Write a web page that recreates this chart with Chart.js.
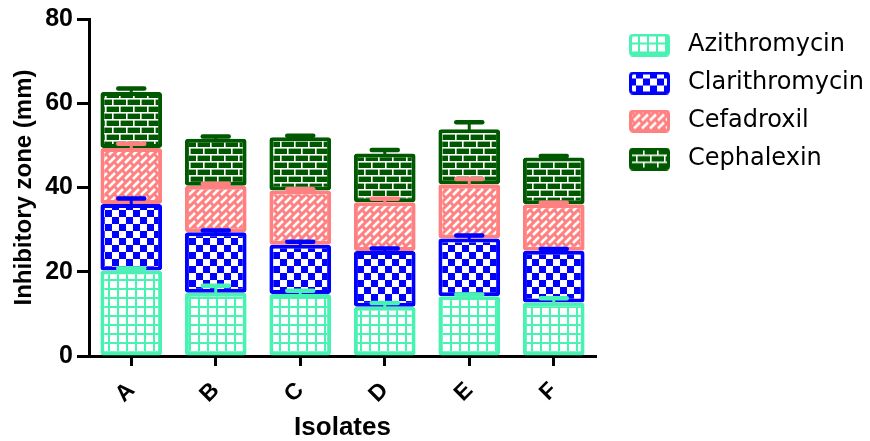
<!DOCTYPE html>
<html><head><meta charset="utf-8">
<script src="https://cdn.jsdelivr.net/npm/chart.js@4.4.1/dist/chart.umd.min.js"></script>
<style>html,body{margin:0;padding:0;background:#fff}</style>
</head><body>
<canvas id="c" width="870" height="441" style="display:block;width:870px;height:441px"></canvas>
<script>
// ---- data ----
const categories = ['A', 'B', 'C', 'D', 'E', 'F'];
const seriesNames = ['Azithromycin', 'Clarithromycin', 'Cefadroxil', 'Cephalexin'];
const azithromycin   = [20.3, 15.0, 14.7, 11.7, 14.2, 12.7];
const clarithromycin = [15.8, 14.4, 11.7, 13.2, 13.7, 12.3];
const cefadroxil     = [13.3, 11.0, 12.9, 11.6, 12.9, 11.0];
const cephalexin     = [13.3, 11.2, 12.6, 11.6, 13.0, 11.1];
const azithromycinErr   = [0.5, 1.7, 0.8, 0.9, 0.4, 1.0];
const clarithromycinErr = [1.3, 0.4, 0.7, 0.6, 0.7, 0.4];
const cefadroxilErr     = [1.0, 0.5, 0.3, 0.8, 1.2, 0.4];
const cephalexinErr     = [0.8, 0.5, 0.4, 0.8, 1.7, 0.4];
const yTicks = [0, 20, 40, 60, 80];

// ---- styles ----
const colors = ['#48F2B2', '#0000FF', '#FF8080', '#005800'];
const boldFam = "'Liberation Sans', Arial, sans-serif";
const narrowFam = "'Liberation Sans Narrow', 'Liberation Sans', Arial, sans-serif";

function tile(w, h, draw) {
  const c = document.createElement('canvas'); c.width = w; c.height = h;
  draw(c.getContext('2d'), w, h); return c;
}
const tiles = [
  tile(9, 9, (g, w, h) => { g.fillStyle = '#fff'; g.fillRect(0,0,w,h); g.fillStyle = colors[0];
    g.fillRect(0,0,2,h); g.fillRect(0,0,w,2); }),
  tile(14, 14, (g, w, h) => { g.fillStyle = colors[1]; g.fillRect(0,0,w,h); g.fillStyle = '#fff';
    g.fillRect(0,0,7,7); g.fillRect(7,7,7,7); }),
  tile(16, 16, (g, w, h) => { g.fillStyle = colors[2]; g.fillRect(0,0,w,h); g.strokeStyle = '#fff';
    g.lineWidth = 2.6; g.lineCap = 'butt';
    for (let k = -2; k <= 6; k++) { const v = 8 * k;
      for (let m = -2; m <= 4; m++) { const u0 = 16 * m + ((k % 2 + 2) % 2 ? 8 : 0);
        const u1 = u0 - 6, u2 = u0 + 6;
        g.beginPath(); g.moveTo((v + u1) / 2, (v - u1) / 2); g.lineTo((v + u2) / 2, (v - u2) / 2); g.stroke(); } } }),
  tile(14, 14, (g, w, h) => { g.fillStyle = colors[3]; g.fillRect(0,0,w,h); g.fillStyle = '#fff';
    g.fillRect(0,0,w,1.6); g.fillRect(0,7,w,1.6); g.fillRect(0,0,1.6,7); g.fillRect(7,7,1.6,7); })
];
const mainCtx = document.getElementById('c').getContext('2d');
const patterns = tiles.map(t => mainCtx.createPattern(t, 'repeat'));

function rr(g, x, y, w, h, r) {
  g.beginPath(); g.moveTo(x + r, y); g.lineTo(x + w - r, y); g.quadraticCurveTo(x + w, y, x + w, y + r);
  g.lineTo(x + w, y + h - r); g.quadraticCurveTo(x + w, y + h, x + w - r, y + h);
  g.lineTo(x + r, y + h); g.quadraticCurveTo(x, y + h, x, y + h - r);
  g.lineTo(x, y + r); g.quadraticCurveTo(x, y, x + r, y); g.closePath();
}
const swatches = tiles.map((t, i) => tile(41, 23, (g, w, h) => {
  rr(g, 1.5, 1.5, w - 3, h - 3, 3); g.fillStyle = g.createPattern(t, 'repeat'); g.fill();
  g.lineWidth = 3; g.strokeStyle = colors[i]; g.stroke();
}));

const seriesValues = [azithromycin, clarithromycin, cefadroxil, cephalexin];
const seriesErrors = [azithromycinErr, clarithromycinErr, cefadroxilErr, cephalexinErr];

const errorBars = {
  id: 'errorBars',
  afterDatasetsDraw(chart) {
    const ctx = chart.ctx, ys = chart.scales.y;
    chart.data.datasets.forEach((ds, i) => {
      const meta = chart.getDatasetMeta(i);
      meta.data.forEach((bar, j) => {
        let top = 0; for (let k = 0; k <= i; k++) top += seriesValues[k][j];
        const yTop = ys.getPixelForValue(top);
        const yErr = ys.getPixelForValue(top + seriesErrors[i][j]);
        ctx.save(); ctx.strokeStyle = colors[i]; ctx.lineCap = 'round';
        ctx.lineWidth = 3; ctx.beginPath(); ctx.moveTo(bar.x, yTop); ctx.lineTo(bar.x, yErr); ctx.stroke();
        ctx.lineWidth = 4.5; ctx.beginPath(); ctx.moveTo(bar.x - 13, yErr); ctx.lineTo(bar.x + 13, yErr); ctx.stroke();
        ctx.restore();
      });
    });
  }
};

const datasets = seriesNames.map((name, i) => ({
  label: name,
  data: seriesValues[i],
  backgroundColor: patterns[i],
  borderColor: colors[i],
  borderWidth: 4,
  borderSkipped: false,
  borderRadius: {topLeft: 3, topRight: 3, bottomLeft: 3, bottomRight: 3},
  barPercentage: 0.73,
  categoryPercentage: 1
}));

new Chart(mainCtx, {
  type: 'bar',
  data: { labels: categories, datasets },
  options: {
    responsive: false,
    animation: false,
    devicePixelRatio: 1,
    layout: { padding: { top: 19, right: 0, bottom: 0, left: 0 } },
    plugins: {
      tooltip: { enabled: false },
      legend: {
        position: 'right', align: 'start', maxWidth: 261,
        labels: {
          usePointStyle: true, pointStyleWidth: 53, padding: 14, color: '#000',
          font: { family: "'DejaVu Sans', sans-serif", size: 24 },
          generateLabels: (chart) => Chart.defaults.plugins.legend.labels.generateLabels(chart)
            .map((it, i) => Object.assign(it, { pointStyle: swatches[i] }))
        }
      }
    },
    scales: {
      x: {
        stacked: true, offset: true,
        grid: { display: true, drawOnChartArea: false, offset: false, tickLength: 10, tickWidth: 3, tickColor: '#000' },
        border: { display: true, color: '#000', width: 3 },
        ticks: { color: '#000', font: { family: boldFam, size: 23, weight: 'bold' }, minRotation: 45, maxRotation: 45, padding: 11 },
        title: { display: true, text: 'Isolates', color: '#000', font: { family: boldFam, size: 26, weight: 'bold', lineHeight: 1 }, padding: 0 },
        afterFit: s => { s.height = 85; }
      },
      y: {
        stacked: true, min: 0, max: 80,
        afterBuildTicks: s => { s.ticks = yTicks.map(v => ({ value: v })); },
        grid: { display: true, drawOnChartArea: false, tickLength: 12, tickWidth: 3, tickColor: '#000' },
        border: { display: true, color: '#000', width: 3 },
        ticks: { color: '#000', font: { family: narrowFam, size: 25, weight: 'bold' }, padding: 4 },
        title: { display: true, text: 'Inhibitory zone (mm)', color: '#000', font: { family: boldFam, size: 24, weight: 'bold' }, padding: { top: 10, bottom: 0 } },
        afterFit: s => { s.width = 89; }
      },
      spacer: {
        type: 'linear', position: 'right', display: true,
        grid: { display: false }, ticks: { display: false }, border: { display: false },
        afterFit: s => { s.width = 13; }
      }
    }
  },
  plugins: [errorBars]
});
</script>
</body></html>
